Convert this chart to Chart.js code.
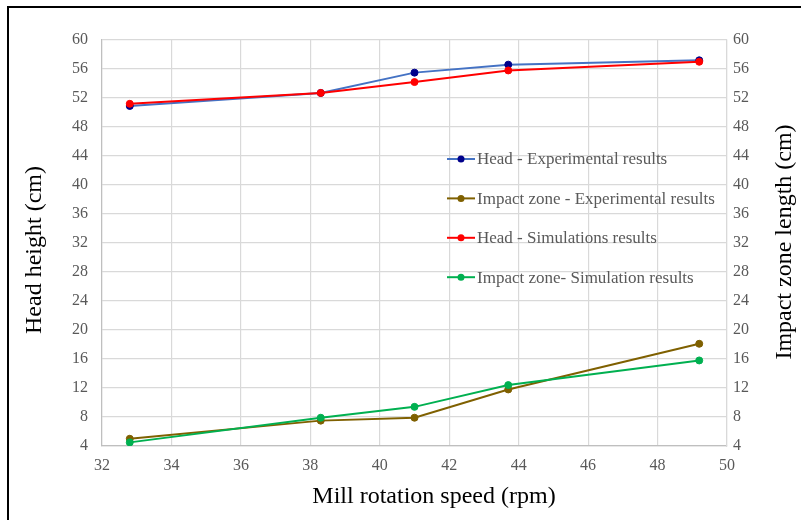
<!DOCTYPE html>
<html>
<head>
<meta charset="utf-8">
<script src="https://cdn.jsdelivr.net/npm/chart.js@4.4.1/dist/chart.umd.min.js"></script>
<style>
  html, body { margin: 0; padding: 0; background: #ffffff; }
  #wrap { position: relative; width: 801px; height: 520px; overflow: hidden; }
  #frame { position: absolute; left: 7px; top: 6px; width: 820px; height: 540px;
           border-left: 2px solid #000; border-top: 2px solid #000; box-sizing: border-box; pointer-events: none; }
  canvas { position: absolute; left: 0; top: 0; }
</style>
</head>
<body>
<div id="wrap">
  <canvas id="chart" width="801" height="520"></canvas>
  <div id="frame"></div>
</div>
<script>
// Mill rotation speeds (rpm)
const speeds = [32.8, 38.3, 41.0, 43.7, 49.2];
// Head height (cm)
const headExperimental = [50.9, 52.7, 55.5, 56.6, 57.2];
const headSimulation   = [51.2, 52.7, 54.2, 55.8, 57.0];
// Impact zone length (cm)
const impactExperimental = [5.0, 7.5, 7.9, 11.8, 18.1];
const impactSimulation   = [4.5, 7.9, 9.4, 12.4, 15.8];

const seriesLabels = [
  'Head - Experimental results',
  'Impact zone - Experimental results',
  'Head - Simulations results',
  'Impact zone- Simulation results'
];
const xTitle = 'Mill rotation speed (rpm)';
const yLeftTitle = 'Head height (cm)';
const yRightTitle = 'Impact zone length (cm)';

const SERIF = '"Liberation Serif", "Times New Roman", serif';
const TICK_COLOR = '#595959';
const GRID_COLOR = '#d9d9d9';

function pairs(values) {
  return speeds.map((s, i) => ({ x: s, y: values[i] }));
}

function series(label, values, lineColor, markerColor, axis, order) {
  return {
    label: label,
    data: pairs(values),
    yAxisID: axis,
    borderColor: lineColor,
    backgroundColor: markerColor,
    pointBackgroundColor: markerColor,
    pointBorderColor: markerColor,
    pointBorderWidth: 1,
    pointRadius: 3.5,
    borderWidth: 2,
    tension: 0,
    order: order
  };
}

const datasets = [
  series(seriesLabels[0], headExperimental, '#4472c4', '#00008b', 'y', 4),
  series(seriesLabels[1], impactExperimental, '#7f6000', '#7f6000', 'y2', 3),
  series(seriesLabels[2], headSimulation, '#ff0000', '#ff0000', 'y', 2),
  series(seriesLabels[3], impactSimulation, '#00b050', '#00b050', 'y2', 1)
];

// Legend drawn inside the plot area, one row per series
const innerLegend = {
  id: 'innerLegend',
  afterDraw(chart) {
    const ctx = chart.ctx;
    const x0 = 447, x1 = 475, textX = 477;
    const top = 159, step = 39.4;
    ctx.save();
    ctx.font = '17px ' + SERIF;
    ctx.textBaseline = 'middle';
    ctx.textAlign = 'left';
    chart.data.datasets.forEach((ds, i) => {
      const y = top + i * step;
      ctx.strokeStyle = ds.borderColor;
      ctx.lineWidth = 2;
      ctx.beginPath();
      ctx.moveTo(x0, y);
      ctx.lineTo(x1, y);
      ctx.stroke();
      ctx.fillStyle = ds.pointBackgroundColor;
      ctx.beginPath();
      ctx.arc((x0 + x1) / 2, y, 3.5, 0, Math.PI * 2);
      ctx.fill();
      ctx.fillStyle = TICK_COLOR;
      ctx.fillText(ds.label, textX, y + 1);
    });
    ctx.restore();
  }
};

// Axis titles; both vertical titles read bottom to top
const axisTitles = {
  id: 'axisTitles',
  afterDraw(chart) {
    const ctx = chart.ctx;
    const area = chart.chartArea;
    ctx.save();
    ctx.font = '24px ' + SERIF;
    ctx.fillStyle = '#000000';
    ctx.textAlign = 'center';
    ctx.textBaseline = 'middle';
    ctx.fillText(xTitle, 434, 497);

    ctx.save();
    ctx.translate(35, 250);
    ctx.rotate(-Math.PI / 2);
    ctx.fillText(yLeftTitle, 0, 0);
    ctx.restore();

    ctx.save();
    ctx.translate(785, 242);
    ctx.rotate(-Math.PI / 2);
    ctx.fillText(yRightTitle, 0, 0);
    ctx.restore();
    ctx.restore();
  }
};

const tickFont = { family: SERIF, size: 16 };

new Chart(document.getElementById('chart'), {
  type: 'line',
  data: { datasets: datasets },
  options: {
    responsive: false,
    animation: false,
    devicePixelRatio: 1,
    layout: { padding: { top: 40, left: 0, right: 0, bottom: 0 } },
    plugins: {
      legend: { display: false },
      tooltip: { enabled: false }
    },
    scales: {
      x: {
        type: 'linear',
        min: 32,
        max: 50,
        ticks: { stepSize: 2, font: tickFont, color: TICK_COLOR, padding: 10 },
        grid: { color: GRID_COLOR, lineWidth: 1.2, drawTicks: false },
        border: { color: '#bfbfbf', width: 1.2 },
        afterFit(scale) { scale.height = 74; }
      },
      y: {
        position: 'left',
        min: 4,
        max: 60,
        ticks: { stepSize: 4, font: tickFont, color: TICK_COLOR, padding: 14 },
        grid: { color: GRID_COLOR, lineWidth: 1.2, drawTicks: false },
        border: { color: '#bfbfbf', width: 1.2 },
        afterFit(scale) { scale.width = 102; }
      },
      y2: {
        position: 'right',
        min: 4,
        max: 60,
        ticks: { stepSize: 4, font: tickFont, color: TICK_COLOR, padding: 6 },
        grid: { drawOnChartArea: false, drawTicks: false },
        border: { color: GRID_COLOR, width: 1.2 },
        afterFit(scale) { scale.width = 74; }
      }
    }
  },
  plugins: [innerLegend, axisTitles]
});
</script>
</body>
</html>
